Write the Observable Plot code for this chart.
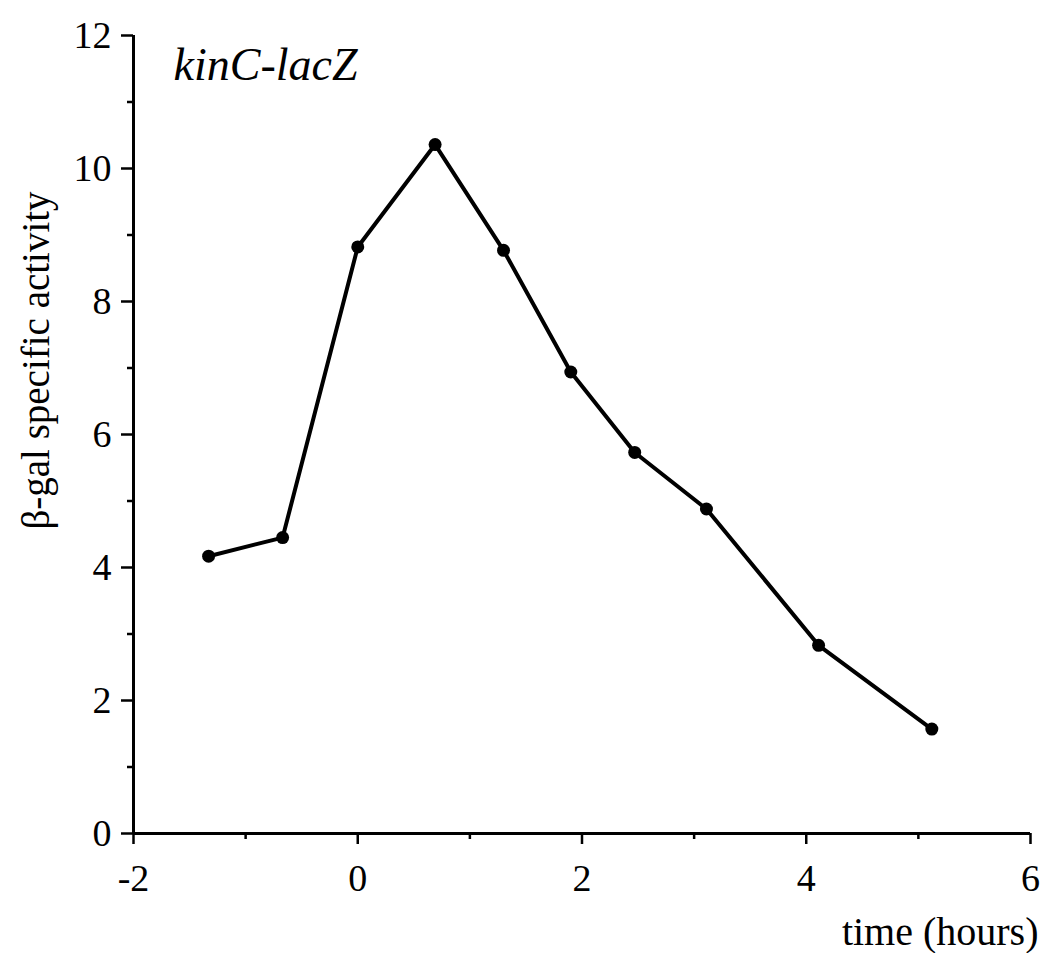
<!DOCTYPE html>
<html>
<head>
<meta charset="utf-8">
<script src="https://cdn.jsdelivr.net/npm/d3@7"></script>
<script src="https://cdn.jsdelivr.net/npm/@observablehq/plot@0.6"></script>
<style>
  html, body { margin: 0; padding: 0; background: #fff; }
  #chart svg { display: block; }
</style>
</head>
<body>
<div id="chart"></div>
<script>
const timeHours = [-1.33, -0.67, 0.0, 0.69, 1.30, 1.90, 2.47, 3.11, 4.11, 5.12];
const activity = [4.17, 4.45, 8.82, 10.36, 8.77, 6.94, 5.73, 4.88, 2.83, 1.57];
const xMajorTicks = [-2, 0, 2, 4, 6];
const xMinorTicks = [-1, 1, 3, 5];
const yMajorTicks = [0, 2, 4, 6, 8, 10, 12];
const yMinorTicks = [1, 3, 5, 7, 9, 11];
const title = "kinC-lacZ";
const xLabel = "time (hours)";
const yLabel = "β-gal specific activity";

const data = timeHours.map((t, i) => ({t, v: activity[i]}));
const font = "'Liberation Serif', 'DejaVu Serif', serif";

const chart = Plot.plot({
  width: 1052,
  height: 953,
  marginLeft: 133,
  marginRight: 22,
  marginTop: 35,
  marginBottom: 120,
  style: {fontFamily: font, fontSize: "38px", color: "#000", background: "#fff"},
  x: {domain: [-2, 6]},
  y: {domain: [0, 12]},
  marks: [
    Plot.axisX({ticks: xMajorTicks, tickSize: 11, tickPadding: 20, tickFormat: d => String(d), label: null, strokeWidth: 2.5, fontSize: 38}),
    Plot.axisX({ticks: xMinorTicks, tickSize: 6, text: null, label: null, strokeWidth: 2.5}),
    Plot.axisY({ticks: yMajorTicks, tickSize: 12, tickPadding: 10, tickFormat: d => String(d), label: null, strokeWidth: 2.5, fontSize: 38}),
    Plot.axisY({ticks: yMinorTicks, tickSize: 6, text: null, label: null, strokeWidth: 2.5}),
    Plot.ruleY([0], {stroke: "#000", strokeWidth: 3}),
    Plot.ruleX([-2], {stroke: "#000", strokeWidth: 3}),
    Plot.line(data, {x: "t", y: "v", stroke: "#000", strokeWidth: 4, strokeLinejoin: "round"}),
    Plot.dot(data, {x: "t", y: "v", r: 6.5, fill: "#000", stroke: null}),
    Plot.text([title], {frameAnchor: "top-left", dx: 40, dy: 30, text: d => d, textAnchor: "start", lineAnchor: "middle", fontSize: 46, fontStyle: "italic", fill: "#000"}),
    Plot.text([xLabel], {frameAnchor: "bottom-right", dx: 8, dy: 99, text: d => d, textAnchor: "end", lineAnchor: "middle", fontSize: 40, fill: "#000"}),
    Plot.text([yLabel], {frameAnchor: "left", dx: -97, dy: -74, text: d => d, rotate: -90, textAnchor: "middle", lineAnchor: "middle", fontSize: 39, fill: "#000"})
  ]
});
document.getElementById("chart").appendChild(chart);
</script>
</body>
</html>
